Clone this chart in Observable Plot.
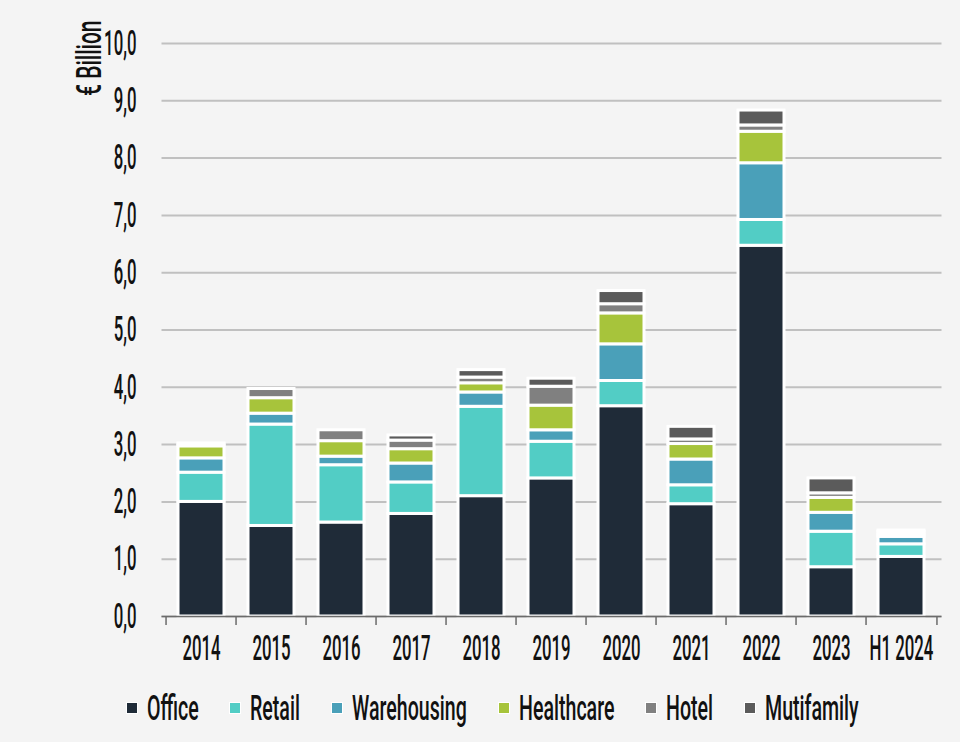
<!DOCTYPE html>
<html><head><meta charset="utf-8">
<script src="https://cdn.jsdelivr.net/npm/d3@7"></script>
<script src="https://cdn.jsdelivr.net/npm/@observablehq/plot@0.6"></script>
<style>
html,body{margin:0;padding:0;background:#f4f4f4;}
body{width:960px;height:742px;overflow:hidden;font-family:Roboto,sans-serif;}
#legend{display:flex;justify-content:center;align-items:center;height:36px;margin-top:15px;padding-left:24px;box-sizing:border-box;width:960px;font-size:35px;font-weight:500;color:#111;}
.item{display:flex;align-items:center;margin:0 15.5px;}
.sw{width:10px;height:10px;border:1.5px solid #fff;margin-right:9px;}
.lbw{display:inline-block;overflow:visible;white-space:nowrap;}
.lb{display:inline-block;transform-origin:left center;white-space:nowrap;}
</style></head><body><div id="chart"></div><div id="legend"></div>
<script>
const years = ["2014","2015","2016","2017","2018","2019","2020","2021","2022","2023","H1 2024"];
const types = ["Office","Retail","Warehousing","Healthcare","Hotel","Mutifamily"];
const colors = ["#1f2b38","#52cdc5","#4aa0b9","#a7c43b","#808080","#5b5b5b"];
const office      = [2.00,1.58,1.64,1.79,2.10,2.41,3.67,1.96,6.47,0.86,1.04];
const retail      = [0.51,1.77,1.00,0.55,1.56,0.64,0.44,0.33,0.45,0.62,0.22];
const warehousing = [0.25,0.19,0.15,0.33,0.25,0.20,0.64,0.45,0.99,0.33,0.13];
const healthcare  = [0.21,0.27,0.27,0.25,0.16,0.43,0.54,0.27,0.55,0.26,0.04];
const hotel       = [0.03,0.16,0.19,0.15,0.10,0.33,0.16,0.08,0.11,0.08,0.05];
const multifamily = [0.02,0.00,0.00,0.09,0.13,0.14,0.23,0.22,0.26,0.26,0.02];
const yTicks = [0,1,2,3,4,5,6,7,8,9,10];
const yLabel = "€ Billion";

const series = [office, retail, warehousing, healthcare, hotel, multifamily];
const data = types.flatMap((t,k) => years.map((y,i) => ({year:y, type:t, value:series[k][i]})));

const W=960, H=675, ML=161.5, MR=18.5, MT=43, MB=59;
const step = (W-ML-MR)/years.length;
const fmt = d => d3.format(".1f")(d).replace(".", ",");
const axisColor = "#6b6b6b";

const chart = Plot.plot({
  width: W, height: H, marginLeft: ML, marginRight: MR, marginTop: MT, marginBottom: MB,
  style: {background:"transparent", fontFamily:"Roboto, sans-serif", fontSize:"35px", fontWeight:"500", color:"#111", overflow:"visible"},
  x: {domain: years, padding: 0.34, paddingOuter: 0.17, label: null},
  y: {domain: [0,10], label: null},
  color: {domain: types, range: colors},
  marks: [
    Plot.gridY(yTicks, {stroke:"#c0c0c0", strokeOpacity:1, strokeWidth:2}),
    Plot.barY(data, {x:"year", y:"value", fill:"type", stroke:"white", strokeWidth:3, order: types}),
    Plot.ruleY([0], {stroke: axisColor, strokeWidth:1.5}),
    Plot.ruleX(years, {x: d => d, y1: () => 0, y2: () => 0, insetBottom: -9, dx: -step/2, stroke: axisColor, strokeWidth:1.5}),
    Plot.ruleX(years.slice(-1), {x: d => d, y1: () => 0, y2: () => 0, insetBottom: -9, dx: step/2, stroke: axisColor, strokeWidth:1.5}),
    Plot.axisY(yTicks, {tickSize:0, tickPadding:25.5, tickFormat: fmt, fill:"#111", label:null}),
    Plot.axisX({tickSize:0, tickPadding:19, fill:"#111", label:null}),
    Plot.text([yLabel], {text: d => d, frameAnchor:"top-left", rotate:-90, textAnchor:"end", dx:-86, dy:-23, fill:"#111"})
  ]
});

const S = 0.48, SL = 0.6;
chart.querySelectorAll("text").forEach(t => {
  const s = t.textContent === yLabel ? SL : S;
  const x = +(t.getAttribute("x") || 0);
  const tr = t.getAttribute("transform") || "";
  t.setAttribute("transform", `${tr} translate(${x},0) scale(${s},1) translate(${-x},0)`);
});
document.getElementById("chart").appendChild(chart);

const LS = 0.56;
const legend = document.getElementById("legend");
types.forEach((t,i) => {
  const item = document.createElement("div"); item.className = "item";
  const sw = document.createElement("span"); sw.className = "sw"; sw.style.background = colors[i];
  const w = document.createElement("span"); w.className = "lbw";
  const lb = document.createElement("span"); lb.className = "lb"; lb.textContent = t;
  w.appendChild(lb); item.appendChild(sw); item.appendChild(w); legend.appendChild(item);
});
legend.querySelectorAll(".lbw").forEach(w => {
  const lb = w.firstChild;
  const ow = lb.offsetWidth;
  w.style.width = (ow*LS) + "px";
  lb.style.transform = `scaleX(${LS})`;
});
</script>
</body></html>
